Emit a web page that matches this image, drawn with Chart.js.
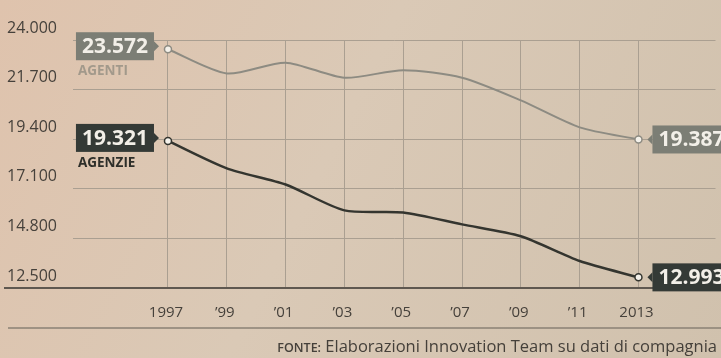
<!DOCTYPE html>
<html>
<head>
<meta charset="utf-8">
<script src="https://cdn.jsdelivr.net/npm/chart.js@4.4.1/dist/chart.umd.min.js"></script>
<style>
  html, body { margin: 0; padding: 0; background: #d9c6b1; }
  #wrap { width: 721px; height: 358px; }
</style>
</head>
<body>
<div id="wrap"><canvas id="chart" width="721" height="358"></canvas></div>
<script>
// ---- data ----
const years = [1997, 1999, 2001, 2003, 2005, 2007, 2009, 2011, 2013];
const yearLabels = ["1997", "’99", "’01", "’03", "’05", "’07", "’09", "’11", "2013"];
const agenti = [23572, 22450, 22950, 22250, 22600, 22250, 21200, 19950, 19387];
const agenzie = [19321, 18050, 17300, 16100, 16000, 15450, 14900, 13750, 12993];
const yTicks = [12500, 14800, 17100, 19400, 21700, 24000];
const seriesNames = ["AGENTI", "AGENZIE"];
const sourceLabel = "FONTE:";
const sourceText = "Elaborazioni Innovation Team su dati di compagnia";

const GRAY = "#8d8b82";
const GRAY_BOX = "#7c7e75";
const DARK = "#34352f";
const DARK_BOX = "#343a36";
const GRID = "#aa9f91";
const TEXT = "#46413b";

// 24.000 style
function fmt(n) {
  return String(n).replace(/\B(?=(\d{3})+(?!\d))/g, ".");
}

function toPoints(values) {
  return values.map((v, i) => ({ x: years[i], y: v }));
}

function endRadius(ctx) {
  const last = ctx.dataset.data.length - 1;
  return (ctx.dataIndex === 0 || ctx.dataIndex === last) ? 3.5 : 0;
}

// tag box with small arrow pointing at the point
function drawTag(ctx, px, py, text, fill, side) {
  ctx.font = "bold 21px 'Open Sans', sans-serif";
  const w = ctx.measureText(text).width + 12;
  const h = 28;
  const top = py - h / 2;
  let left, tip, base;
  if (side === "left") {
    left = px - 14 - w; base = px - 14; tip = px - 9;
  } else {
    left = px + 14; base = px + 14; tip = px + 9;
  }
  ctx.fillStyle = fill;
  ctx.fillRect(left, top, w, h);
  ctx.beginPath();
  ctx.moveTo(base, py - 5);
  ctx.lineTo(tip, py);
  ctx.lineTo(base, py + 5);
  ctx.closePath();
  ctx.fill();
  ctx.fillStyle = "#f2efe8";
  ctx.textAlign = "left";
  ctx.textBaseline = "middle";
  ctx.fillText(text, left + 6, py + 1);
  return { left, top, w, h };
}

const paperPlugin = {
  id: "paper",
  beforeDraw(chart) {
    const { ctx, width, height } = chart;
    const g = ctx.createLinearGradient(0, 0, width, height);
    g.addColorStop(0, "#dfc3ad");
    g.addColorStop(0.45, "#dac9b6");
    g.addColorStop(1, "#d0c1ad");
    ctx.save();
    ctx.fillStyle = g;
    ctx.fillRect(0, 0, width, height);
    ctx.restore();
  }
};

const overlayPlugin = {
  id: "overlay",
  afterDatasetsDraw(chart) {
    const { ctx, scales: { x, y }, chartArea } = chart;
    ctx.save();

    // baseline extends to the left edge
    const yBase = y.getPixelForValue(yTicks[0]);
    ctx.strokeStyle = "#5f5850";
    ctx.lineWidth = 2;
    ctx.beginPath();
    ctx.moveTo(4, yBase);
    ctx.lineTo(chart.width, yBase);
    ctx.stroke();

    // y tick labels sit above their gridline
    ctx.font = "16px 'Open Sans', sans-serif";
    ctx.fillStyle = TEXT;
    ctx.textAlign = "left";
    ctx.textBaseline = "middle";
    yTicks.forEach(v => {
      ctx.fillText(fmt(v), 7, y.getPixelForValue(v) - 12);
    });

    // x tick labels
    ctx.font = "15px 'Open Sans', sans-serif";
    ctx.textAlign = "center";
    years.forEach((yr, i) => {
      ctx.fillText(yearLabels[i], x.getPixelForValue(yr) - 2, yBase + 25);
    });

    // separator and source
    ctx.strokeStyle = "#8a8075";
    ctx.lineWidth = 1.5;
    ctx.beginPath();
    ctx.moveTo(8, yBase + 40);
    ctx.lineTo(chart.width, yBase + 40);
    ctx.stroke();

    ctx.textAlign = "right";
    ctx.font = "16.5px 'Open Sans', sans-serif";
    ctx.fillStyle = "#45403a";
    const srcY = yBase + 59;
    ctx.fillText(sourceText, 717, srcY);
    const tw = ctx.measureText(sourceText + " ").width;
    ctx.font = "600 12.5px 'Open Sans', sans-serif";
    ctx.fillText(sourceLabel, 717 - tw, srcY + 1);

    // value tags
    const fills = [GRAY_BOX, DARK_BOX];
    const nameColors = ["#a2998b", "#2e2f2a"];
    chart.data.datasets.forEach((ds, di) => {
      const pts = chart.getDatasetMeta(di).data;
      const first = pts[0], last = pts[pts.length - 1];
      const vals = di === 0 ? agenti : agenzie;
      const b = drawTag(ctx, first.x, first.y - 3, fmt(vals[0]), fills[di], "left");
      drawTag(ctx, last.x, last.y, fmt(vals[vals.length - 1]), fills[di], "right");
      ctx.font = "bold 13.5px 'Open Sans', sans-serif";
      ctx.fillStyle = nameColors[di];
      ctx.textAlign = "left";
      ctx.textBaseline = "middle";
      ctx.fillText(seriesNames[di], b.left + 2, b.top + b.h + 11);
    });

    ctx.restore();
  }
};

new Chart(document.getElementById("chart"), {
  type: "line",
  data: {
    datasets: [
      {
        label: seriesNames[0],
        data: toPoints(agenti),
        borderColor: GRAY,
        borderWidth: 2,
        tension: 0.25,
        pointRadius: endRadius,
        pointBackgroundColor: "#f4f1ea",
        pointBorderColor: GRAY,
        pointBorderWidth: 1.5
      },
      {
        label: seriesNames[1],
        data: toPoints(agenzie),
        borderColor: DARK,
        borderWidth: 2.5,
        tension: 0.25,
        pointRadius: endRadius,
        pointBackgroundColor: "#f4f1ea",
        pointBorderColor: DARK,
        pointBorderWidth: 1.5
      }
    ]
  },
  options: {
    responsive: false,
    animation: false,
    devicePixelRatio: 1,
    layout: { padding: { top: 40, left: 73, right: 0, bottom: 70 } },
    plugins: { legend: { display: false }, tooltip: { enabled: false } },
    scales: {
      x: {
        type: "linear",
        min: 1993.77,
        max: 2015.62,
        afterBuildTicks: s => { s.ticks = years.map(v => ({ value: v })); },
        ticks: { display: false },
        grid: { color: GRID, lineWidth: 1, drawTicks: false },
        border: { display: false }
      },
      y: {
        min: yTicks[0],
        max: yTicks[yTicks.length - 1],
        afterBuildTicks: s => { s.ticks = yTicks.map(v => ({ value: v })); },
        ticks: { display: false },
        grid: { color: GRID, lineWidth: 1, drawTicks: false },
        border: { display: false }
      }
    }
  },
  plugins: [paperPlugin, overlayPlugin]
});
</script>
</body>
</html>
